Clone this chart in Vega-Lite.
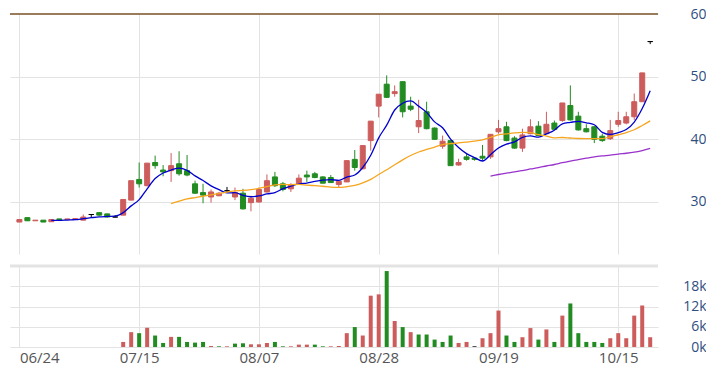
{
  "$schema": "https://vega.github.io/schema/vega-lite/v6.json",
  "padding": {"left": 8, "top": 7, "right": 0, "bottom": 0},
  "spacing": 10,
  "config": {
    "view": {"stroke": null},
    "font": "Open Sans",
    "axis": {"labelFont": "Open Sans", "domain": false, "ticks": false, "gridColor": "#e3e3e3", "gridWidth": 1, "labelOverlap": false}
  },
  "data": {"values": [
    {"i":0,"open":26.8,"high":27.2,"low":26.8,"close":27.2,"vol":0},
    {"i":1,"open":27.5,"high":27.5,"low":27.0,"close":27.0,"vol":0},
    {"i":2,"open":27.0,"high":27.1,"low":27.0,"close":27.1,"vol":0},
    {"i":3,"open":27.1,"high":27.1,"low":26.8,"close":26.8,"vol":0},
    {"i":4,"open":26.85,"high":27.2,"low":26.85,"close":27.2,"vol":0},
    {"i":5,"open":27.3,"high":27.3,"low":27.2,"close":27.2,"vol":0},
    {"i":6,"open":27.2,"high":27.3,"low":27.2,"close":27.3,"vol":0},
    {"i":7,"open":27.2,"high":27.4,"low":27.2,"close":27.35,"vol":0},
    {"i":8,"open":27.1,"high":28.0,"low":27.1,"close":27.6,"vol":0},
    {"i":9,"open":28.0,"high":28.0,"low":27.5,"close":28.0,"vol":0},
    {"i":10,"open":28.3,"high":28.4,"low":27.8,"close":27.9,"vol":0},
    {"i":11,"open":28.1,"high":28.15,"low":27.5,"close":27.6,"vol":0},
    {"i":12,"open":27.6,"high":27.9,"low":27.6,"close":27.6,"vol":0},
    {"i":13,"open":27.9,"high":30.4,"low":27.9,"close":30.4,"vol":1500},
    {"i":14,"open":30.3,"high":33.4,"low":30.3,"close":33.4,"vol":4400},
    {"i":15,"open":33.6,"high":36.3,"low":32.3,"close":32.9,"vol":4100},
    {"i":16,"open":32.6,"high":36.2,"low":32.5,"close":36.2,"vol":5700},
    {"i":17,"open":36.3,"high":37.4,"low":35.3,"close":35.8,"vol":3400},
    {"i":18,"open":35.1,"high":35.9,"low":34.1,"close":34.8,"vol":1200},
    {"i":19,"open":35.0,"high":37.8,"low":33.2,"close":35.8,"vol":3000},
    {"i":20,"open":36.1,"high":38.1,"low":34.2,"close":34.5,"vol":3000},
    {"i":21,"open":35.0,"high":37.5,"low":34.1,"close":34.3,"vol":1500},
    {"i":22,"open":32.9,"high":33.4,"low":31.3,"close":31.4,"vol":1300},
    {"i":23,"open":31.5,"high":32.9,"low":29.8,"close":31.1,"vol":1500},
    {"i":24,"open":30.8,"high":32.0,"low":29.9,"close":31.6,"vol":300},
    {"i":25,"open":31.0,"high":31.6,"low":30.9,"close":31.4,"vol":200},
    {"i":26,"open":31.8,"high":32.4,"low":31.5,"close":31.8,"vol":200},
    {"i":27,"open":30.8,"high":32.3,"low":30.3,"close":31.5,"vol":1000},
    {"i":28,"open":31.4,"high":32.1,"low":28.8,"close":28.9,"vol":1100},
    {"i":29,"open":29.9,"high":31.0,"low":28.5,"close":30.6,"vol":800},
    {"i":30,"open":30.0,"high":32.3,"low":29.9,"close":32.0,"vol":800},
    {"i":31,"open":31.6,"high":34.4,"low":31.5,"close":33.4,"vol":1200},
    {"i":32,"open":34.0,"high":34.8,"low":32.4,"close":32.6,"vol":1500},
    {"i":33,"open":32.9,"high":33.2,"low":31.7,"close":32.0,"vol":200},
    {"i":34,"open":32.1,"high":33.0,"low":31.6,"close":32.7,"vol":200},
    {"i":35,"open":32.9,"high":34.4,"low":32.8,"close":33.8,"vol":700},
    {"i":36,"open":34.3,"high":35.0,"low":33.2,"close":34.0,"vol":700},
    {"i":37,"open":34.5,"high":34.8,"low":33.8,"close":33.9,"vol":700},
    {"i":38,"open":34.0,"high":34.1,"low":33.0,"close":33.0,"vol":200},
    {"i":39,"open":33.9,"high":34.3,"low":33.1,"close":33.1,"vol":200},
    {"i":40,"open":32.8,"high":33.3,"low":32.3,"close":33.3,"vol":300},
    {"i":41,"open":33.2,"high":36.6,"low":33.2,"close":36.6,"vol":4100},
    {"i":42,"open":36.8,"high":38.3,"low":35.0,"close":35.5,"vol":5900},
    {"i":43,"open":35.3,"high":39.0,"low":35.2,"close":39.0,"vol":3400},
    {"i":44,"open":39.8,"high":42.9,"low":38.2,"close":42.9,"vol":15200},
    {"i":45,"open":45.3,"high":47.2,"low":43.5,"close":47.2,"vol":15600},
    {"i":46,"open":48.8,"high":50.2,"low":46.6,"close":46.7,"vol":22500},
    {"i":47,"open":47.3,"high":48.6,"low":46.8,"close":47.6,"vol":7700},
    {"i":48,"open":49.2,"high":49.2,"low":43.5,"close":44.4,"vol":5900},
    {"i":49,"open":45.3,"high":46.8,"low":44.5,"close":44.8,"vol":4400},
    {"i":50,"open":42.0,"high":46.3,"low":41.0,"close":43.0,"vol":3700},
    {"i":51,"open":44.4,"high":46.0,"low":41.6,"close":41.7,"vol":3700},
    {"i":52,"open":41.8,"high":41.9,"low":39.9,"close":40.0,"vol":2200},
    {"i":53,"open":38.9,"high":40.6,"low":38.5,"close":39.7,"vol":1500},
    {"i":54,"open":39.8,"high":39.9,"low":35.8,"close":35.8,"vol":3400},
    {"i":55,"open":35.9,"high":36.9,"low":35.8,"close":36.3,"vol":1200},
    {"i":56,"open":37.2,"high":37.7,"low":36.6,"close":36.8,"vol":1500},
    {"i":57,"open":37.0,"high":37.0,"low":36.6,"close":36.8,"vol":200},
    {"i":58,"open":37.3,"high":39.1,"low":36.6,"close":37.0,"vol":2600},
    {"i":59,"open":37.2,"high":40.8,"low":36.9,"close":40.8,"vol":4100},
    {"i":60,"open":41.2,"high":43.1,"low":40.9,"close":41.7,"vol":10800},
    {"i":61,"open":42.0,"high":42.8,"low":39.7,"close":39.8,"vol":3400},
    {"i":62,"open":40.2,"high":40.5,"low":38.5,"close":38.6,"vol":1500},
    {"i":63,"open":38.6,"high":41.7,"low":38.0,"close":40.7,"vol":2900},
    {"i":64,"open":40.9,"high":43.2,"low":40.8,"close":42.0,"vol":5600},
    {"i":65,"open":42.1,"high":42.9,"low":40.5,"close":40.6,"vol":2200},
    {"i":66,"open":40.9,"high":44.4,"low":40.8,"close":42.4,"vol":5200},
    {"i":67,"open":42.6,"high":43.0,"low":41.5,"close":41.6,"vol":1500},
    {"i":68,"open":43.0,"high":45.8,"low":42.8,"close":45.8,"vol":9300},
    {"i":69,"open":45.4,"high":48.6,"low":43.0,"close":43.1,"vol":12900},
    {"i":70,"open":43.7,"high":44.4,"low":41.4,"close":41.5,"vol":4100},
    {"i":71,"open":41.7,"high":42.4,"low":41.1,"close":41.2,"vol":1500},
    {"i":72,"open":42.0,"high":42.1,"low":39.4,"close":40.0,"vol":1500},
    {"i":73,"open":40.5,"high":40.9,"low":39.6,"close":39.8,"vol":1200},
    {"i":74,"open":40.1,"high":43.1,"low":39.9,"close":41.4,"vol":2600},
    {"i":75,"open":42.4,"high":44.4,"low":42.0,"close":43.0,"vol":4100},
    {"i":76,"open":42.6,"high":44.4,"low":42.4,"close":43.6,"vol":2600},
    {"i":77,"open":43.6,"high":47.3,"low":43.1,"close":46.0,"vol":9300},
    {"i":78,"open":46.0,"high":50.6,"low":46.0,"close":50.6,"vol":12300},
    {"i":79,"open":55.6,"high":55.6,"low":55.2,"close":55.6,"vol":2900}
  ]},
  "vconcat": [
    {
      "width": 648,
      "height": 240,
      "encoding": {
        "x": {"field": "i", "type": "quantitative", "title": null, "scale": {"domain": [-0.55, 79.35], "nice": false, "zero": false},
              "axis": {"values": [0, 15, 30, 45, 60, 75], "labels": false, "grid": true}}
      },
      "layer": [
        {
          "data": {"values": [{"v": 60}]},
          "mark": {"type": "rule", "color": "#9a7b5c", "strokeWidth": 2},
          "encoding": {"x": null, "y": {"field": "v", "type": "quantitative"}}
        },
        {
          "mark": {"type": "rule", "strokeWidth": 1},
          "encoding": {
            "y": {"field": "low", "type": "quantitative", "title": null, "scale": {"domain": [21.7, 60], "nice": false, "zero": false},
                  "axis": {"orient": "right", "values": [30, 40, 50, 60], "labelAlign": "right", "labelPadding": 48, "labelFontSize": 14, "labelColor": "#2f4f7f", "grid": true, "labelOverlap": false}},
            "y2": {"field": "high"},
            "color": {"condition": [{"test": "datum.close > datum.open", "value": "#CD5C5C"}, {"test": "datum.close < datum.open", "value": "#228B22"}], "value": "#000000"}
          }
        },
        {
          "mark": {"type": "bar", "size": 5, "strokeWidth": 1},
          "encoding": {
            "y": {"field": "open", "type": "quantitative"},
            "y2": {"field": "close"},
            "color": {"condition": [{"test": "datum.close > datum.open", "value": "#CD5C5C"}, {"test": "datum.close < datum.open", "value": "#228B22"}], "value": "#000000"},
            "stroke": {"condition": [{"test": "datum.close > datum.open", "value": "#CD5C5C"}, {"test": "datum.close < datum.open", "value": "#228B22"}], "value": "#000000"}
          }
        },
        {
          "transform": [
            {"window": [{"op": "mean", "field": "close", "as": "ma"}, {"op": "count", "as": "n"}], "frame": [-4, 0], "sort": [{"field": "i"}]},
            {"filter": "datum.n == 5"}
          ],
          "mark": {"type": "line", "color": "#0000CD", "strokeWidth": 1.3, "interpolate": "monotone"},
          "encoding": {"y": {"field": "ma", "type": "quantitative"}}
        },
        {
          "transform": [
            {"window": [{"op": "mean", "field": "close", "as": "ma"}, {"op": "count", "as": "n"}], "frame": [-19, 0], "sort": [{"field": "i"}]},
            {"filter": "datum.n == 20"}
          ],
          "mark": {"type": "line", "color": "#F5A51E", "strokeWidth": 1.3, "interpolate": "monotone"},
          "encoding": {"y": {"field": "ma", "type": "quantitative"}}
        },
        {
          "transform": [
            {"window": [{"op": "mean", "field": "close", "as": "ma"}, {"op": "count", "as": "n"}], "frame": [-59, 0], "sort": [{"field": "i"}]},
            {"filter": "datum.n == 60"}
          ],
          "mark": {"type": "line", "color": "#9932CC", "strokeWidth": 1.3, "interpolate": "monotone"},
          "encoding": {"y": {"field": "ma", "type": "quantitative"}}
        }
      ]
    },
    {
      "width": 648,
      "height": 81,
      "transform": [
        {"window": [{"op": "lag", "field": "close", "as": "prev"}], "sort": [{"field": "i"}]}
      ],
      "encoding": {
        "x": {"field": "i", "type": "quantitative", "title": null, "scale": {"domain": [-0.55, 79.35], "nice": false, "zero": false},
              "axis": {"values": [0, 15, 30, 45, 60, 75], "grid": true, "labelFontSize": 15, "labelColor": "#555555", "labelPadding": 3,
                       "labelAlign": {"condition": {"test": "datum.value == 0", "value": "left"}, "value": "center"},
                       "labelExpr": "datum.value == 0 ? '06/24' : datum.value == 15 ? '07/15' : datum.value == 30 ? '08/07' : datum.value == 45 ? '08/28' : datum.value == 60 ? '09/19' : '10/15'"}},
        "y": {"field": "vol", "type": "quantitative", "title": null, "scale": {"domain": [0, 24000], "nice": false},
              "axis": {"orient": "right", "values": [0, 6000, 12000, 18000], "labelAlign": "right", "labelPadding": 48, "labelFontSize": 14, "labelColor": "#2f4f7f", "grid": true, "labelOverlap": false, "labelBound": false,
                       "labelExpr": "(datum.value / 1000) + 'k'"}}
      },
      "layer": [
        {
          "mark": {"type": "bar", "size": 4},
          "encoding": {
            "color": {"condition": [{"test": "datum.prev == null || datum.close > datum.prev", "value": "#CD5C5C"}, {"test": "datum.close < datum.prev", "value": "#228B22"}], "value": "#000000"}
          }
        },
        {
          "data": {"values": [{"vol": 24000}]},
          "mark": {"type": "rule", "color": "#e3e3e3", "strokeWidth": 3},
          "encoding": {"x": null}
        }
      ]
    }
  ]
}
